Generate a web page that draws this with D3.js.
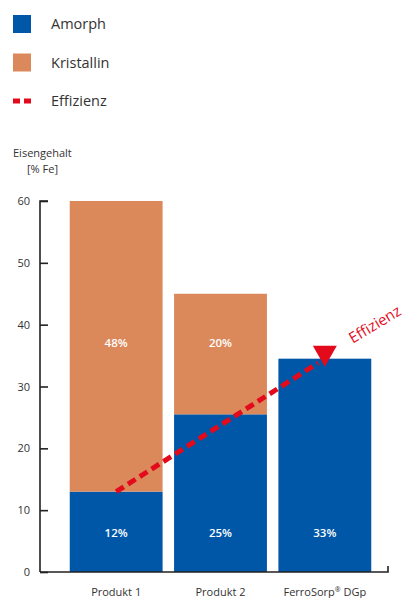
<!DOCTYPE html>
<html><head><meta charset="utf-8">
<script src="https://cdn.jsdelivr.net/npm/d3@7"></script>
<style>body{margin:0;background:#fff}svg{display:block}</style>
</head><body>
<svg id="c" width="419" height="598"></svg>
<script>
const categories = ["Produkt 1", "Produkt 2", "FerroSorp® DGp"];
const amorph = [13, 25.5, 34.5];
const kristallin = [47, 19.5, 0];
const amorphLabels = ["12%", "25%", "33%"];
const kristallinLabels = ["48%", "20%", ""];
const yTicks = [0, 10, 20, 30, 40, 50, 60];
const effizienz = [{cat: "Produkt 1", v: 13}, {cat: "FerroSorp® DGp", v: 34.5}];
const legendItems = ["Amorph", "Kristallin", "Effizienz"];

const BLUE = "#0057a8", ORANGE = "#db885b", RED = "#e30a1c", TXT = "#333";
const FONT = "'Open Sans', 'Liberation Sans', sans-serif";
const svg = d3.select("#c").style("font-family", FONT);

const x = d3.scaleBand().domain(categories).range([64, 377]).paddingInner(0.11).paddingOuter(0.055);
const y = d3.scaleLinear().domain([0, 60]).range([572, 201]);

// legend
const lg = svg.append("g");
legendItems.forEach((t, i) => {
  const cy = 24 + i * 38.5;
  if (i < 2) lg.append("rect").attr("x", 13).attr("y", cy - 9).attr("width", 18).attr("height", 18).attr("fill", i === 0 ? BLUE : ORANGE);
  else lg.append("line").attr("x1", 13).attr("x2", 31).attr("y1", cy).attr("y2", cy).attr("stroke", RED).attr("stroke-width", 5).attr("stroke-dasharray", "7,4");
  lg.append("text").attr("x", 51).attr("y", cy + 5).attr("font-size", 14.5).attr("fill", TXT).text(t);
});

// y title
svg.append("text").attr("x", 13).attr("y", 157).attr("font-size", 11).attr("fill", TXT).text("Eisengehalt");
svg.append("text").attr("x", 27).attr("y", 173).attr("font-size", 11).attr("fill", TXT).text("[% Fe]");

// bars
const g = svg.append("g");
categories.forEach((c, i) => {
  g.append("rect").attr("x", x(c)).attr("width", x.bandwidth())
    .attr("y", y(amorph[i])).attr("height", y(0) - y(amorph[i])).attr("fill", BLUE);
  if (kristallin[i] > 0)
    g.append("rect").attr("x", x(c)).attr("width", x.bandwidth())
      .attr("y", y(amorph[i] + kristallin[i])).attr("height", y(amorph[i]) - y(amorph[i] + kristallin[i])).attr("fill", ORANGE);
  g.append("text").attr("x", x(c) + x.bandwidth() / 2).attr("y", 537).attr("text-anchor", "middle")
    .attr("font-size", 11.5).attr("font-weight", 600).attr("fill", "#fff").text(amorphLabels[i]);
  if (kristallinLabels[i])
    g.append("text").attr("x", x(c) + x.bandwidth() / 2).attr("y", 347).attr("text-anchor", "middle")
      .attr("font-size", 11.5).attr("font-weight", 600).attr("fill", "#fff").text(kristallinLabels[i]);
});

// y axis
const ya = svg.append("g").attr("transform", "translate(40,0)")
  .call(d3.axisRight(y).tickValues(yTicks).tickSize(8).tickFormat(d3.format("d")));
ya.select(".domain").attr("d", `M8,${y(60)}H0V${y(0)}`).attr("stroke", "#222").attr("stroke-width", 1.6);
ya.selectAll(".tick line").attr("stroke", "#222").attr("stroke-width", 1.6);
ya.selectAll(".tick text").attr("x", -10).attr("text-anchor", "end").attr("font-size", 11).attr("font-family", FONT).attr("fill", TXT);

// x axis
const xa = svg.append("g").attr("transform", `translate(0,${y(0)})`)
  .call(d3.axisBottom(x).tickSize(0).tickPadding(16));
xa.select(".domain").attr("d", "M40,0H388V-6").attr("stroke", "#222").attr("stroke-width", 1.6).attr("fill", "none");
xa.selectAll(".tick text").attr("font-size", 11).attr("font-family", FONT).attr("fill", TXT)
  .each(function(d) {
    const parts = d.split("®");
    if (parts.length > 1) {
      const t = d3.select(this).text(null);
      t.append("tspan").text(parts[0]);
      t.append("tspan").attr("font-size", 7).attr("dy", -4).text("®");
      t.append("tspan").attr("dy", 4).text(parts[1]);
    }
  });

// efficiency line
const p0 = [x(effizienz[0].cat) + x.bandwidth() / 2, y(effizienz[0].v)];
const p1 = [x(effizienz[1].cat) + x.bandwidth() / 2, y(effizienz[1].v)];
const ang = Math.atan2(p1[1] - p0[1], p1[0] - p0[0]);
svg.append("line").attr("x1", p0[0]).attr("y1", p0[1]).attr("x2", p1[0] - 8 * Math.cos(ang)).attr("y2", p1[1] - 8 * Math.sin(ang))
  .attr("stroke", RED).attr("stroke-width", 5).attr("stroke-dasharray", "9,5");
svg.append("path").attr("transform", `translate(${p1[0]},${p1[1]})`)
  .attr("d", "M-12,-13H12L0,8Z").attr("fill", RED);
svg.append("text").attr("transform", `translate(${p1[0] + 28},${p1[1] - 15}) rotate(-31)`)
  .attr("font-size", 15).attr("fill", RED).text("Effizienz");
</script>
</body></html>
